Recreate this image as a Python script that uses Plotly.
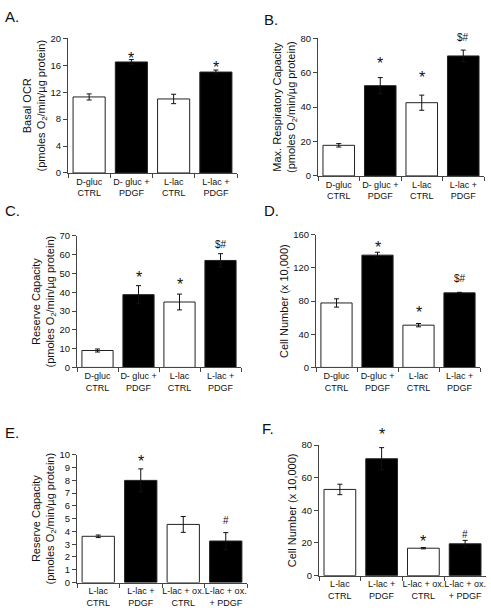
import plotly.graph_objects as go

# ---------------- data ----------------
cats_A = ["D-gluc<br>CTRL", "D- gluc +<br>PDGF", "L-lac<br>CTRL", "L-lac +<br>PDGF"]
cats_D = ["D-gluc<br>CTRL", "D-gluc +<br>PDGF", "L-lac<br>CTRL", "L-lac +<br>PDGF"]
cats_E = ["L-lac<br>CTRL", "L-lac +<br>PDGF", "L-lac + ox.<br>CTRL", "L-lac + ox.<br>+ PDGF"]

basal_ocr = [11.3, 16.5, 11.0, 15.0]
basal_ocr_err = [0.45, 0.35, 0.7, 0.3]
basal_sig = ["", "*", "", "*"]
basal_sig_y = [None, 17.3, None, 15.95]

max_resp = [17.8, 52.5, 42.6, 69.8]
max_resp_err = [1.0, 4.7, 4.4, 3.4]
max_resp_sig = ["", "*", "*", "$#"]
max_resp_sig_y = [None, 66.6, 58.4, 80.6]

reserve = [9.0, 38.7, 34.8, 56.9]
reserve_err = [0.8, 4.8, 4.2, 3.6]
reserve_sig = ["", "*", "*", "$#"]
reserve_sig_y = [None, 48.8, 45.3, 65.3]

cells = [77.8, 135.5, 51.0, 90.0]
cells_err = [5.0, 3.5, 2.0, 0.6]
cells_sig = ["", "*", "*", "$#"]
cells_sig_y = [None, 147.0, 68.6, 107.5]

reserve_ox = [3.62, 8.0, 4.55, 3.25]
reserve_ox_err = [0.1, 0.9, 0.62, 0.66]
reserve_ox_sig = ["", "*", "", "#"]
reserve_ox_sig_y = [None, 9.6, None, 4.85]

cells_ox = [52.8, 71.6, 16.8, 19.5]
cells_ox_err = [3.2, 6.8, 0.4, 2.1]
cells_ox_sig = ["", "*", "*", "#"]
cells_ox_sig_y = [None, 87.4, 22.0, 25.4]

bar_fill = ["white", "black", "white", "black"]

# ---------------- panels ----------------
W, H = 491, 616

def px_x(a, b):
    return [a / W, b / W]

def px_y(top, bottom):
    return [1 - bottom / H, 1 - top / H]

panels = [
    dict(label="A.", lab_xy=(3, 11), cats=cats_A, vals=basal_ocr, err=basal_ocr_err,
         sig=basal_sig, sig_y=basal_sig_y, rng=[0, 20], dtick=4,
         title="Basal OCR<br>(pmoles O<sub>2</sub>/min/µg protein)",
         xd=px_x(68, 237), yd=px_y(33, 170)),
    dict(label="B.", lab_xy=(262, 14), cats=cats_A, vals=max_resp, err=max_resp_err,
         sig=max_resp_sig, sig_y=max_resp_sig_y, rng=[0, 80], dtick=20,
         title="Max. Respiratory Capacity<br>(pmoles O<sub>2</sub>/min/µg protein)",
         xd=px_x(318, 484), yd=px_y(33, 173)),
    dict(label="C.", lab_xy=(3, 208), cats=cats_A, vals=reserve, err=reserve_err,
         sig=reserve_sig, sig_y=reserve_sig_y, rng=[0, 70], dtick=10,
         title="Reserve Capacity<br>(pmoles O<sub>2</sub>/min/µg protein)",
         xd=px_x(77, 241), yd=px_y(234, 368)),
    dict(label="D.", lab_xy=(262, 208), cats=cats_D, vals=cells, err=cells_err,
         sig=cells_sig, sig_y=cells_sig_y, rng=[0, 160], dtick=40,
         title="Cell Number (x 10,000)",
         xd=px_x(316, 480), yd=px_y(233, 368)),
    dict(label="E.", lab_xy=(3, 434), cats=cats_E, vals=reserve_ox, err=reserve_ox_err,
         sig=reserve_ox_sig, sig_y=reserve_ox_sig_y, rng=[0, 10], dtick=1,
         title="Reserve Capacity<br>(pmoles O<sub>2</sub>/min/µg protein)",
         xd=px_x(77, 247), yd=px_y(457, 587)),
    dict(label="F.", lab_xy=(260, 430), cats=cats_E, vals=cells_ox, err=cells_ox_err,
         sig=cells_ox_sig, sig_y=cells_ox_sig_y, rng=[0, 80], dtick=20,
         title="Cell Number (x 10,000)",
         xd=px_x(319, 486), yd=px_y(447, 580)),
]

FONT = "Liberation Sans, Arial, sans-serif"
TXT = "#111"
AXC = "#444"

fig = go.Figure()
layout = dict(
    width=W, height=H, margin=dict(l=0, r=0, t=0, b=0),
    paper_bgcolor="white", plot_bgcolor="white", showlegend=False,
    font=dict(family=FONT, color=TXT, size=10),
    bargap=0.24,
)
annotations = []

for i, p in enumerate(panels, start=1):
    xa = "x" if i == 1 else f"x{i}"
    ya = "y" if i == 1 else f"y{i}"
    fig.add_trace(go.Bar(
        x=p["cats"], y=p["vals"], xaxis=xa, yaxis=ya,
        marker=dict(color=bar_fill, line=dict(color="#222", width=1)),
        error_y=dict(type="data", array=p["err"], visible=True,
                     color="#111", thickness=1, width=2.5),
        hoverinfo="skip",
    ))
    xkey = "xaxis" if i == 1 else f"xaxis{i}"
    ykey = "yaxis" if i == 1 else f"yaxis{i}"
    layout[xkey] = dict(
        domain=p["xd"], anchor=ya, type="category",
        showline=True, linecolor=AXC, linewidth=1,
        ticks="outside", ticklen=4, tickcolor=AXC, tickson="boundaries",
        tickangle=0,
        tickfont=dict(size=9, color=TXT, family=FONT),
        showgrid=False, zeroline=False, fixedrange=True,
    )
    layout[ykey] = dict(
        domain=p["yd"], anchor=xa, range=p["rng"], dtick=p["dtick"],
        showline=True, linecolor=AXC, linewidth=1,
        ticks="outside", ticklen=4, tickcolor=AXC,
        tickfont=dict(size=9.5, color=TXT, family=FONT),
        showgrid=False, zeroline=False, fixedrange=True,
        title=dict(text=p["title"], font=dict(size=11, color=TXT, family=FONT), standoff=2),
    )
    # significance marks: placed through the y scale (value / axis max in domain units)
    xref = "x" if i == 1 else f"x{i}"
    ydom = "y domain" if i == 1 else f"y{i} domain"
    ymax = p["rng"][1]
    for c, s, sy in zip(p["cats"], p["sig"], p["sig_y"]):
        if s:
            annotations.append(dict(
                x=c, y=sy / ymax, xref=xref, yref=ydom, text=s, showarrow=False,
                yanchor="middle", yshift=-2 if s == "*" else 0,
                font=dict(size=16 if s == "*" else 10, color=TXT, family=FONT),
            ))
    lx, ly = p["lab_xy"]
    annotations.append(dict(
        x=lx / W, y=1 - ly / H, xref="paper", yref="paper", text=p["label"],
        showarrow=False, xanchor="left", yanchor="middle",
        font=dict(size=15, color="#111", family=FONT),
    ))

layout["annotations"] = annotations
fig.update_layout(**layout)
fig.write_html("out.html", config={"displayModeBar": False},
               post_script="document.body.style.margin='0';")
